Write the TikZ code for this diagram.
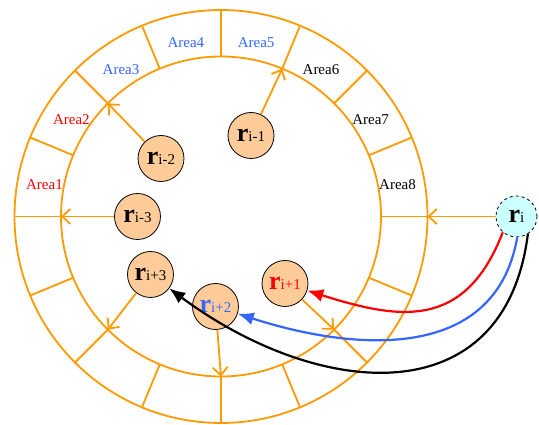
\documentclass[tikz,border=0pt]{standalone}
\usepackage{fontspec}
\setmainfont{Liberation Serif}
\usepackage{xcolor}
\usetikzlibrary{arrows.meta}

\definecolor{ringorange}{RGB}{255,153,0}
\definecolor{peachfill}{RGB}{255,204,153}
\definecolor{cyanfill}{RGB}{204,255,255}
\definecolor{areablue}{RGB}{51,102,255}
\definecolor{areared}{RGB}{255,0,0}

\newcommand{\rlab}[1]{{\fontsize{26}{26}\selectfont\bfseries r}#1}

\begin{document}
\begin{tikzpicture}[
		x=1pt,y=1pt,
		every node/.style={font=\fontsize{15}{15}\selectfont},
		peer/.style={
			circle,
			draw,
			line width=0.8pt,
			fill=peachfill,
			minimum size=46pt,
			inner sep=0pt
		},
		self/.style={peer, dashed, fill=cyanfill, minimum size=41pt},
		ring/.style={draw=ringorange, line width=1.8pt},
		toring/.style={ring, -{Straight Barb[length=8pt,width=15pt]}},
		hop/.style={line width=2.2pt, -{Latex[length=16pt,width=13pt]}}
		]
		
		\useasboundingbox (-221,-208.5) rectangle (318,216.5);
		
		% the ring of areas
		\draw[ring] (0,0) circle (206.5);
		\draw[ring] (0,0) circle (160);
		\foreach \a in {0,22.5,...,337.5}
		\draw[ring] (\a:160) -- (\a:206.5);
		
		\foreach \n/\c in {1/areared,2/areared,3/areablue,4/areablue,5/areablue,6/black,7/black,8/black}
		\node[text=\c, yshift=-3pt] (area\n) at ({180-(\n-0.5)*22.5}:180) {Area\n};
		
		\coordinate (in67) at (67.5:160);
		\coordinate (in135) at (135:160);
		\coordinate (in180) at (180:160);
		\coordinate (in225) at (225:160);
		\coordinate (in270) at (270:160);
		\coordinate (in315) at (315:160);
		\coordinate (out0) at (0:206.5);
		
		% peers
		\node[peer] (rim1) at (30,81) {\rlab{i-1}};
		\node[peer] (rim2) at (-60,58) {\rlab{i-2}};
		\node[peer] (rim3) at (-83.5,0) {\rlab{i-3}};
		\node[peer] (rip3) at (-70.5,-58) {\rlab{i+3}};
		\node[peer, text=areablue] (rip2) at (-5.5,-90) {\rlab{i+2}};
		\node[peer, text=areared] (rip1) at (64,-67) {\rlab{i+1}};
		\node[self] (ri) at (295.5,0) {\rlab{i}};
		
		\draw[toring] (rim1)--(in67);
		\draw[toring] (rim2)--(in135);
		\draw[toring] (rim3)--(in180);
		\draw[toring] (rip3)--(in225);
		\draw[toring] (rip2)--(in270);
		\draw[toring] (rip1)--(in315);
		\draw[toring] (ri)--(out0);
		
		\draw[hop, areared] (ri.-131) .. controls (244,-113.5) and (179,-103.5) .. (rip1);
		\draw[hop, areablue] (ri.-88) .. controls (274,-148.5) and (129,-133.5) .. (rip2);
		\draw[hop, black] (ri.-57) .. controls (284,-198.5) and (99,-183.5) .. (rip3);
		
	\end{tikzpicture}
\end{document}
